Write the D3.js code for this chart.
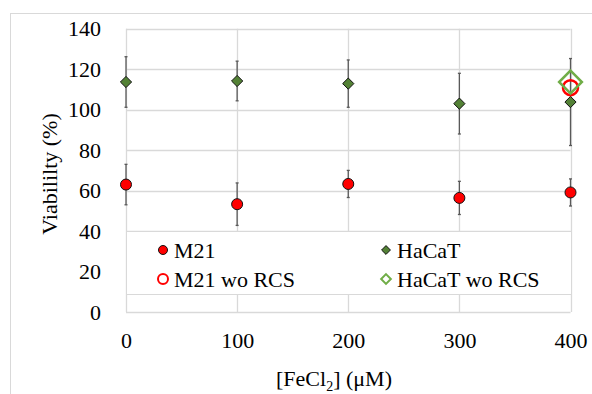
<!DOCTYPE html>
<html><head><meta charset="utf-8">
<script src="https://cdn.jsdelivr.net/npm/d3@7"></script>
</head><body style="margin:0">
<svg id="c" width="592" height="394" style="display:block"></svg>
<script>
const concentrations = [0, 100, 200, 300, 400];
const m21 = [63.0, 53.3, 63.3, 56.4, 59.1];
const m21Err = [10.0, 10.5, 6.7, 8.2, 6.7];
const hacat = [113.7, 114.2, 112.9, 103.0, 103.8];
const hacatErr = [12.5, 9.8, 11.7, 15.0, 21.5];
const m21WoRcs = [{x: 400, y: 110.9}];
const hacatWoRcs = [{x: 400, y: 113.7}];
const xTicks = [0, 100, 200, 300, 400];
const yTicks = [0, 20, 40, 60, 80, 100, 120, 140];
const legendItems = ["M21", "HaCaT", "M21 wo RCS", "HaCaT wo RCS"];

const svg = d3.select("#c");
const x = d3.scaleLinear().domain([0, 400]).range([126, 570.5]);
const y = d3.scaleLinear().domain([0, 140]).range([312, 28.8]);
const grid = "#d9d9d9";

function styleText(sel) {
  return sel.style("font-family", `"Liberation Serif", "Times New Roman", serif`, "important")
    .style("font-size", "22px", "important").attr("fill", "#000");
}

// outer frame
svg.append("rect").attr("x", 10.5).attr("y", 13.5).attr("width", 700).attr("height", 500)
  .attr("fill", "none").attr("stroke", grid);

// gridlines
svg.append("g").selectAll("line").data(yTicks).join("line")
  .attr("x1", x(0)).attr("x2", x(400)).attr("y1", d => Math.round(y(d)) + 0.5).attr("y2", d => Math.round(y(d)) + 0.5)
  .attr("stroke", grid).attr("stroke-width", 1.3);
svg.append("g").selectAll("line").data(xTicks).join("line")
  .attr("y1", y(0)).attr("y2", y(140)).attr("x1", d => Math.round(x(d)) + 0.5).attr("x2", d => Math.round(x(d)) + 0.5)
  .attr("stroke", grid).attr("stroke-width", 1.3);

// axes tick labels via d3 axes
const yAxis = svg.append("g").attr("transform", `translate(${x(0)},0)`)
  .call(d3.axisLeft(y).tickValues(yTicks).tickSize(0).tickPadding(25));
yAxis.select(".domain").remove();
styleText(yAxis.selectAll("text"));

const xAxis = svg.append("g").attr("transform", `translate(0,${y(0)})`)
  .call(d3.axisBottom(x).tickValues(xTicks).tickSize(0).tickPadding(20));
xAxis.select(".domain").remove();
styleText(xAxis.selectAll("text"));

// error bars
function errBars(vals, errs) {
  const g = svg.append("g").attr("stroke", "#595959").attr("stroke-width", 1.3);
  vals.forEach((v, i) => {
    const cx = x(concentrations[i]);
    g.append("line").attr("x1", cx).attr("x2", cx).attr("y1", y(v - errs[i])).attr("y2", y(v + errs[i]));
    g.append("line").attr("x1", cx - 1.5).attr("x2", cx + 1.5).attr("y1", y(v - errs[i])).attr("y2", y(v - errs[i]));
    g.append("line").attr("x1", cx - 1.5).attr("x2", cx + 1.5).attr("y1", y(v + errs[i])).attr("y2", y(v + errs[i]));
  });
}
errBars(hacat, hacatErr);
errBars(m21, m21Err);

const diamond = d3.symbol().type(d3.symbolDiamond2);

// HaCaT diamonds
svg.append("g").selectAll("path").data(hacat).join("path")
  .attr("d", diamond.size(80)())
  .attr("transform", (d, i) => `translate(${x(concentrations[i])},${y(d)})`)
  .attr("fill", "#538135").attr("stroke", "#111").attr("stroke-width", 1);

// M21 circles
svg.append("g").selectAll("circle").data(m21).join("circle")
  .attr("cx", (d, i) => x(concentrations[i])).attr("cy", d => y(d)).attr("r", 5.5)
  .attr("fill", "#ff0000").attr("stroke", "#111").attr("stroke-width", 1);

// wo RCS
svg.append("g").selectAll("circle").data(m21WoRcs).join("circle")
  .attr("cx", d => x(d.x)).attr("cy", d => y(d.y)).attr("r", 7.5)
  .attr("fill", "none").attr("stroke", "#ff0000").attr("stroke-width", 2.5);
svg.append("g").selectAll("path").data(hacatWoRcs).join("path")
  .attr("d", d3.symbol().type(d3.symbolDiamond2).size(330)())
  .attr("transform", d => `translate(${x(d.x)},${y(d.y)})`)
  .attr("fill", "none").attr("stroke", "#70ad47").attr("stroke-width", 2.5);

// legend
const lg = svg.append("g");
lg.append("rect").attr("x", 126.5).attr("y", 231.5).attr("width", 445).attr("height", 63)
  .attr("fill", "#fff").attr("stroke", grid);
const lx = [163, 386];
const ly = [250, 279];
const pos = legendItems.map((t, i) => ({t, i, cx: lx[i % 2], cy: ly[Math.floor(i / 2)]}));
pos.forEach(p => {
  if (p.i === 0) lg.append("circle").attr("cx", p.cx).attr("cy", p.cy).attr("r", 4.5).attr("fill", "#ff0000").attr("stroke", "#111");
  if (p.i === 1) lg.append("path").attr("d", diamond.size(50)()).attr("transform", `translate(${p.cx},${p.cy})`).attr("fill", "#538135").attr("stroke", "#111");
  if (p.i === 2) lg.append("circle").attr("cx", p.cx).attr("cy", p.cy).attr("r", 5).attr("fill", "none").attr("stroke", "#ff0000").attr("stroke-width", 2);
  if (p.i === 3) lg.append("path").attr("d", diamond.size(60)()).attr("transform", `translate(${p.cx},${p.cy})`).attr("fill", "none").attr("stroke", "#70ad47").attr("stroke-width", 2);
  styleText(lg.append("text").attr("x", p.cx + 11).attr("y", p.cy + 7.5)).text(p.t);
});

// axis titles
styleText(svg.append("text").attr("transform", "translate(57,174) rotate(-90)").attr("text-anchor", "middle"))
  .text("Viabililty (%)");
const xt = styleText(svg.append("text").attr("x", 334).attr("y", 386).attr("text-anchor", "middle"));
xt.append("tspan").text("[FeCl");
xt.append("tspan").style("font-size", "14px", "important").attr("dy", 5).text("2");
xt.append("tspan").attr("dy", -5).text("] (μM)");
</script>
</body></html>
